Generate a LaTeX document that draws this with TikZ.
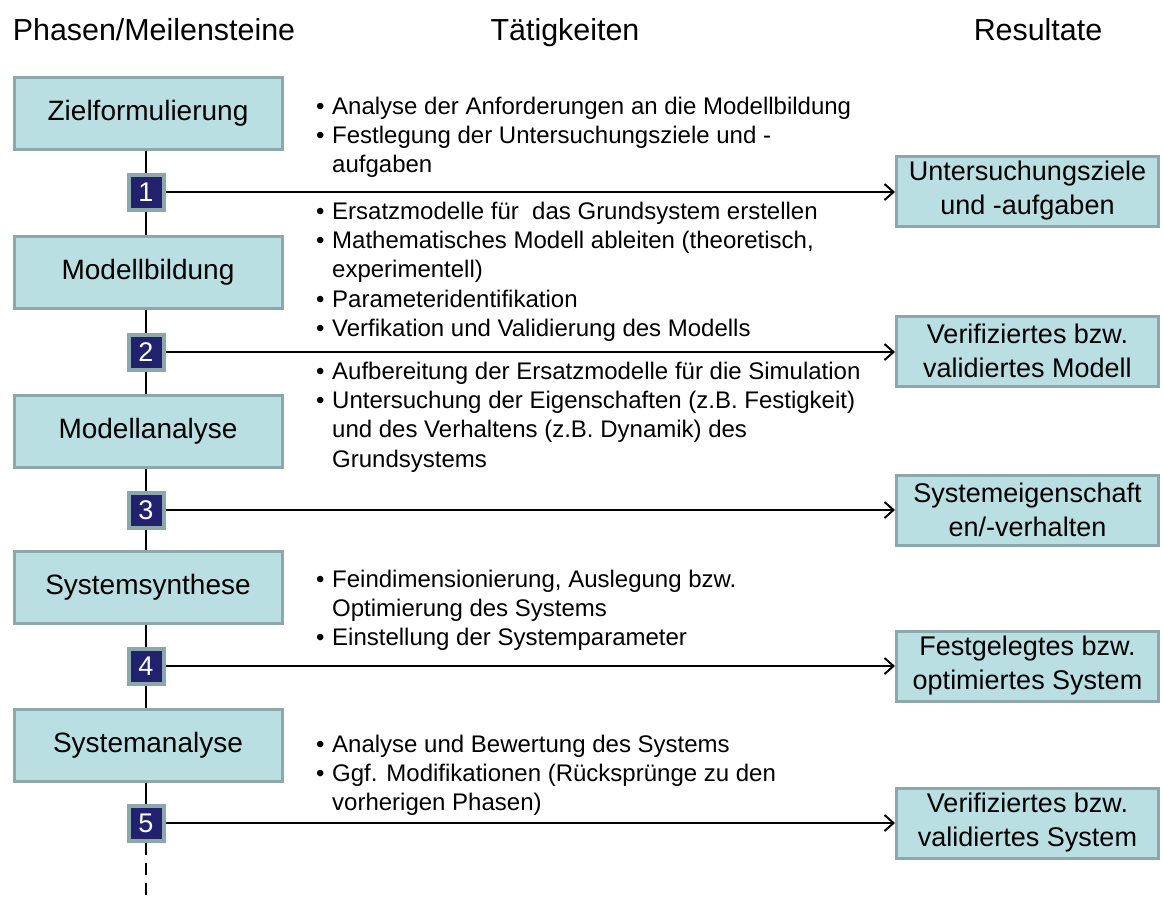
\documentclass[tikz,border=0pt]{standalone}
\usepackage{fontspec}
\setmainfont{Liberation Sans}
\usetikzlibrary{arrows.meta}
\definecolor{boxfill}{RGB}{185,223,227}
\definecolor{boxline}{RGB}{140,168,171}
\definecolor{navy}{RGB}{33,33,110}
\newcommand\bl{\textbullet}
\tikzset{
  phase/.style={rectangle, fill=boxfill, draw=boxline, line width=3pt,
    minimum width=268pt, minimum height=72pt, inner sep=0pt,
    font=\fontsize{28}{33}\selectfont},
  result/.style={rectangle, fill=boxfill, draw=boxline, line width=3pt,
    minimum width=262pt, minimum height=70pt, inner sep=0pt, align=center,
    font=\fontsize{27}{34}\selectfont},
  milestone/.style={rectangle, fill=navy, draw=boxline, line width=4pt,
    minimum size=35pt, inner sep=0pt, text=white,
    font=\fontsize{27}{30}\selectfont},
  heading/.style={anchor=base, inner sep=0pt, font=\fontsize{30.4}{34}\selectfont},
  tasks/.style={anchor=base west, inner sep=0pt, font=\fontsize{24}{29.4}\selectfont},
  link/.style={line width=2.5pt},
  outarrow/.style={line width=2pt, -{Straight Barb[length=9pt,width=16pt,line width=2pt]}}
}
\newenvironment{tasklist}{\begin{tabular}[t]{@{}p{16pt}@{}l@{}}}{\end{tabular}}
\begin{document}
\begin{tikzpicture}[x=1pt,y=-1pt]
\useasboundingbox (0,0) rectangle (1163,898);

% column headings
\node[heading] (hphase) at (154,40) {Phasen/Meilensteine};
\node[heading] (htask) at (565,40) {Tätigkeiten};
\node[heading] (hres) at (1038,40) {Resultate};

% phases
\node[phase] (p1) at (148,113) {Zielformulierung};
\node[phase] (p2) at (148,272) {Modellbildung};
\node[phase] (p3) at (148,431) {Modellanalyse};
\node[phase] (p4) at (148,587) {Systemsynthese};
\node[phase] (p5) at (148,745) {Systemanalyse};

% milestones
\node[milestone] (m1) at (146,192) {1};
\node[milestone] (m2) at (146,352) {2};
\node[milestone] (m3) at (146,510) {3};
\node[milestone] (m4) at (146,666) {4};
\node[milestone] (m5) at (146,823) {5};

% results
\node[result] (r1) at (1027.5,191) {Untersuchungsziele\\und -aufgaben};
\node[result] (r2) at (1027.5,351) {Verifiziertes bzw.\\validiertes Modell};
\node[result] (r3) at (1027.5,510) {Systemeigenschaft\\en/-verhalten};
\node[result] (r4) at (1027.5,666) {Festgelegtes bzw.\\optimiertes System};
\node[result] (r5) at (1027.5,823) {Verifiziertes bzw.\\validiertes System};

% activities
\node[tasks] (t1) at (316,114) {\begin{tasklist}
\bl & Analyse der Anforderungen an die Modellbildung\\
\bl & Festlegung der Untersuchungsziele und -\\
    & aufgaben
\end{tasklist}};
\node[tasks] (t2) at (316,219) {\begin{tasklist}
\bl & Ersatzmodelle für\ \ das Grundsystem erstellen\\
\bl & Mathematisches Modell ableiten (theoretisch,\\
    & experimentell)\\
\bl & Parameteridentifikation\\
\bl & Verfikation und Validierung des Modells
\end{tasklist}};
\node[tasks] (t3) at (316,379) {\begin{tasklist}
\bl & Aufbereitung der Ersatzmodelle für die Simulation\\
\bl & Untersuchung der Eigenschaften (z.B. Festigkeit)\\
    & und des Verhaltens (z.B. Dynamik) des\\
    & Grundsystems
\end{tasklist}};
\node[tasks] (t4) at (316,587) {\begin{tasklist}
\bl & Feindimensionierung, Auslegung bzw.\\
    & Optimierung des Systems\\
\bl & Einstellung der Systemparameter
\end{tasklist}};
\node[tasks] (t5) at (316,752) {\begin{tasklist}
\bl & Analyse und Bewertung des Systems\\
\bl & Ggf. Modifikationen (Rücksprünge zu den\\
    & vorherigen Phasen)
\end{tasklist}};

% timeline through phases and milestones
\coordinate (tail) at (146,898);
\draw[link] (p1.south -| m1) -- (m1.north);
\draw[link] (m1.south) -- (p2.north -| m1);
\draw[link] (p2.south -| m2) -- (m2.north);
\draw[link] (m2.south) -- (p3.north -| m2);
\draw[link] (p3.south -| m3) -- (m3.north);
\draw[link] (m3.south) -- (p4.north -| m3);
\draw[link] (p4.south -| m4) -- (m4.north);
\draw[link] (m4.south) -- (p5.north -| m4);
\draw[link] (p5.south -| m5) -- (m5.north);
\draw[link, dash pattern=on 12pt off 8pt] (m5.south) -- (tail);

% results of each milestone
\draw[outarrow] (m1.east) -- (r1.west |- m1);
\draw[outarrow] (m2.east) -- (r2.west |- m2);
\draw[outarrow] (m3.east) -- (r3.west |- m3);
\draw[outarrow] (m4.east) -- (r4.west |- m4);
\draw[outarrow] (m5.east) -- (r5.west |- m5);
\end{tikzpicture}
\end{document}
